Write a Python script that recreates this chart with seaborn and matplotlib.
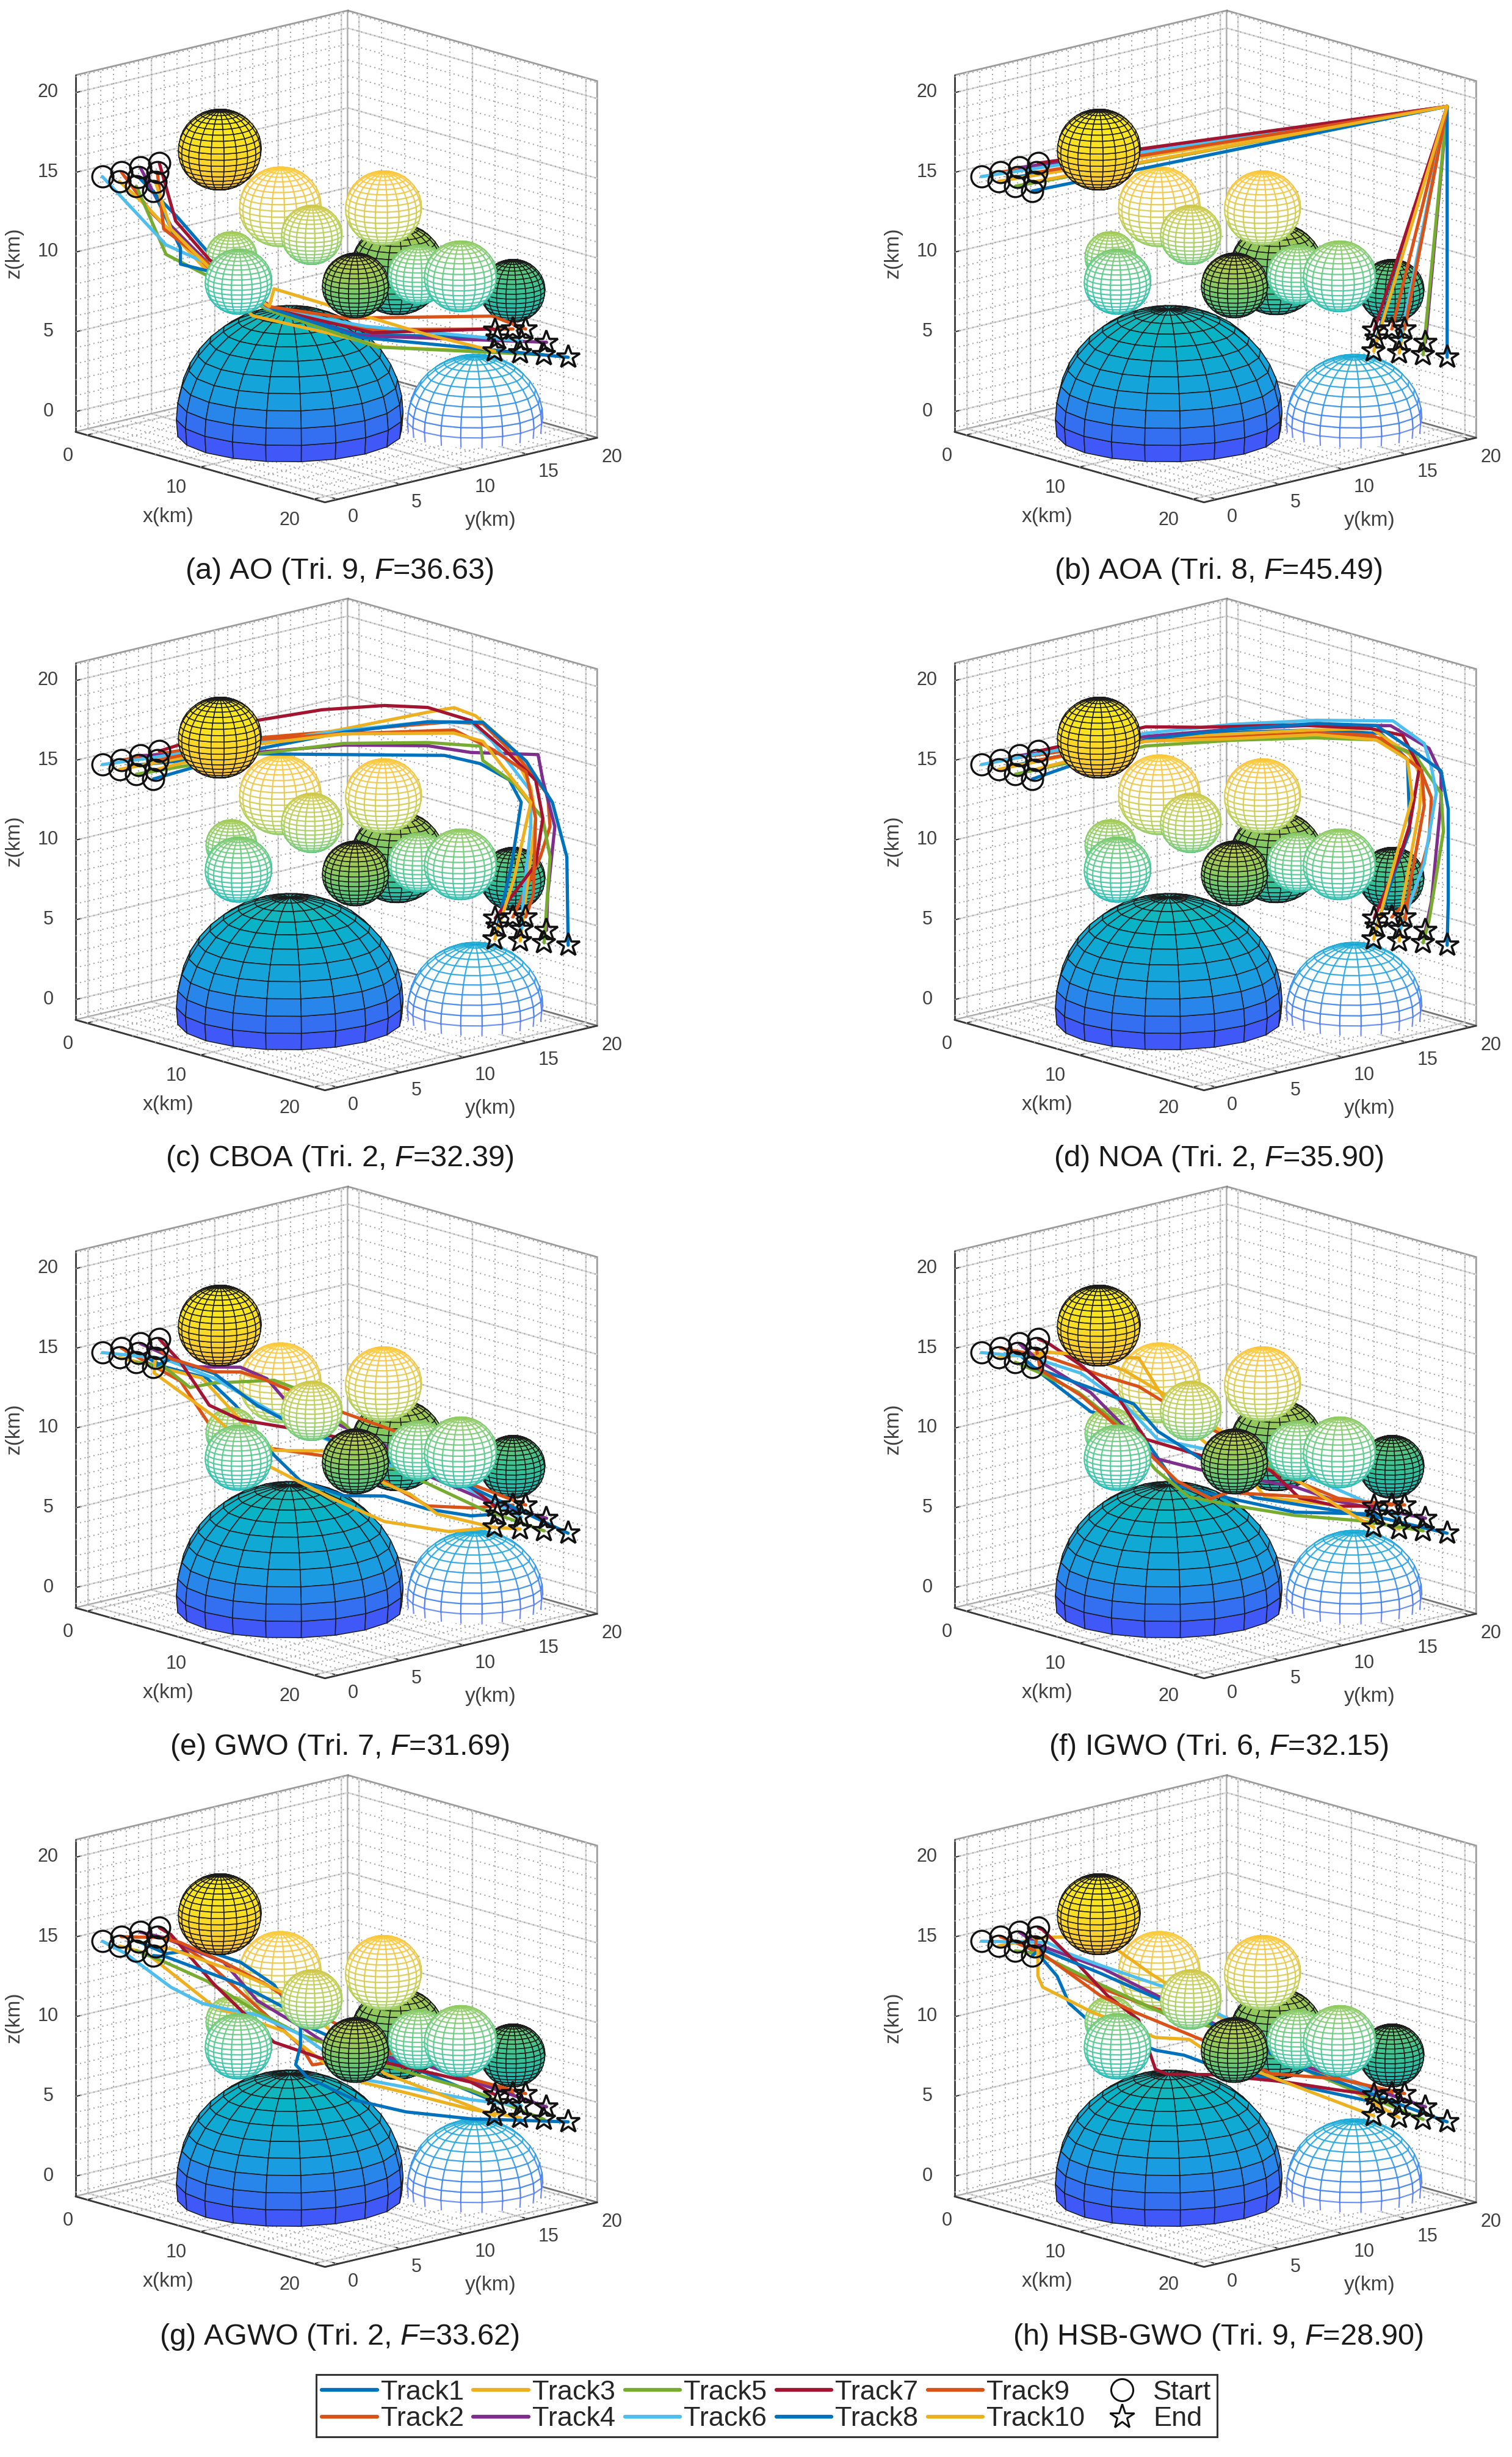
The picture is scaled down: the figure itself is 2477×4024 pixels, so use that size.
"""UAV track comparison: eight 3D panels of obstacle spheres and ten tracks."""
import numpy as np
import matplotlib
matplotlib.use("Agg")
import matplotlib.pyplot as plt
from matplotlib.lines import Line2D
from matplotlib.transforms import Affine2D
from mpl_toolkits.mplot3d.art3d import Line3DCollection, Poly3DCollection
import seaborn as sns

# axis ranges and ticks
x_lim = (-1.0, 21.0)
y_lim = (-1.0, 20.5)
z_lim = (-1.27, 21.1)
x_ticks = [0, 10, 20]
y_ticks = [0, 5, 10, 15, 20]
z_ticks = [0, 5, 10, 15, 20]
x_minor = list(range(0, 21, 2))
y_minor = list(range(0, 21))
z_minor = list(range(-1, 22))

# obstacles: centre, radius
solid_x = [5.54, 12.94, 17.0, 17.75]
solid_y = [4.54, 11.94, 5.0, 16.75]
solid_z = [16.7, 9.3, 10.4, 8.0]
solid_r = [2.45, 2.76, 1.96, 1.9]
solid_front = [True, False, True, False]

wire_x = [8.06, 9.37, 12.36, 13.83, 15.57, 6.02, 6.32]
wire_y = [7.06, 8.37, 11.36, 12.83, 14.57, 5.02, 5.32]
wire_z = [13.15, 11.4, 13.12, 8.97, 8.88, 10.0, 8.43]
wire_r = [2.4, 1.78, 2.24, 1.78, 2.13, 1.49, 1.96]
wire_front = [False, True, False, True, True, False, True]

dome_x, dome_y, dome_r = 8.4, 7.5, 6.7
wire_dome_x, wire_dome_y, wire_dome_r = 16.6, 14.8, 4.0

# track ends (Track1 .. Track10)
track_names = [f"Track{i}" for i in range(1, 11)]
track_colors = ["#0072BD", "#D95319", "#EDB120", "#7E2F8E", "#77AC30",
                "#4DBEEE", "#A2142F", "#0072BD", "#D95319", "#EDB120"]
start_x = [1.75, 0.25, 1.75, 0.25, 3.25, 0.25, 0.25, 4.75, 1.75, 3.25]
start_y = [1.5, 1.5, 0.0, 3.0, 0.0, 0.0, 4.5, 0.0, 3.0, 1.5]
start_z = [14.8] * 10
end_x = [16.06, 16.7, 17.0, 18.1, 18.0, 17.05, 15.96, 19.0, 17.23, 15.94]
end_y = [17.06, 17.7, 18.0, 19.1, 19.0, 18.05, 16.96, 20.0, 18.23, 16.94]
end_z = [4.64, 5.21, 3.71, 4.4, 3.61, 4.46, 5.13, 3.47, 5.22, 3.81]

# waypoints between start and end, per panel and track: (x, y, z)
via_a = [
    [(3.8, 2.8, 12.4), (5.2, 4.2, 10.0), (7.5, 6.5, 6.9), (11.2, 10.2, 5.2)],
    [(2.7, 1.7, 12.7), (5.0, 4.0, 9.3), (7.5, 6.5, 6.7), (11.7, 10.7, 5.5)],
    [(2.5, 1.5, 13.1), (5.0, 4.0, 9.1), (6.9, 5.9, 6.3), (10.5, 9.5, 5.1), (12.4, 11.4, 4.4)],
    [(3.5, 2.5, 11.9), (5.1, 4.1, 9.5), (7.5, 6.5, 6.7), (11.4, 10.4, 5.1)],
    [(3.3, 2.3, 10.1), (5.0, 4.0, 8.8), (7.5, 6.5, 6.7), (12.1, 11.1, 4.4)],
    [(3.3, 2.3, 10.7), (5.1, 4.1, 9.5), (7.5, 6.5, 6.8), (11.6, 10.6, 5.7)],
    [(3.7, 2.7, 12.2), (5.1, 4.1, 9.8), (7.8, 6.8, 6.7), (11.9, 10.9, 5.3), (16.9, 15.9, 5.6)],
    [(3.9, 2.9, 10.5), (3.9, 2.9, 9.5), (5.0, 4.0, 9.1), (7.8, 6.8, 6.7), (11.4, 10.4, 5.0)],
    [(3.2, 2.2, 11.7), (5.1, 4.1, 9.5), (7.5, 6.5, 6.9), (10.8, 9.8, 6.2), (16.9, 15.9, 6.4)],
    [(3.5, 2.5, 11.7), (5.1, 4.1, 9.3), (7.6, 6.6, 6.9), (7.8, 6.8, 8.0), (10.3, 9.3, 6.9), (14.2, 13.2, 5.2)],
]
via_b = [[(19.0, 20.0, 19.2)] for _ in range(10)]
via_c = [
    [(7.1, 6.1, 15.7), (10.7, 9.7, 15.7), (14.9, 13.9, 15.7), (16.4, 15.4, 15.2), (17.6, 16.6, 14.2), (18.1, 17.1, 12.8), (17.7, 16.7, 8.9)],
    [(7.1, 6.1, 16.7), (10.7, 9.7, 17.2), (15.1, 14.1, 17.8), (16.5, 15.5, 17.7), (18.1, 17.1, 15.4), (19.2, 18.2, 13.3), (19.3, 18.3, 11.3), (18.9, 17.9, 9.4)],
    [(7.1, 6.1, 16.3), (10.7, 9.7, 17.3), (14.2, 13.2, 18.4), (15.3, 14.3, 18.7), (16.2, 15.2, 18.2), (17.6, 16.6, 16.4), (18.5, 17.5, 13.7), (18.7, 17.7, 11.8)],
    [(7.1, 6.1, 15.8), (10.7, 9.7, 16.3), (14.2, 13.2, 16.3), (16.0, 15.0, 15.9), (18.8, 17.8, 15.8), (19.0, 18.0, 14.2), (19.5, 18.5, 11.3), (19.2, 18.2, 7.0)],
    [(7.1, 6.1, 15.7), (10.7, 9.7, 16.4), (14.2, 13.2, 16.5), (16.4, 15.4, 16.3), (16.5, 15.5, 15.4), (17.8, 16.8, 14.0), (19.0, 18.0, 11.8), (19.3, 18.3, 9.4)],
    [(7.1, 6.1, 16.4), (10.7, 9.7, 17.2), (14.2, 13.2, 17.8), (16.0, 15.0, 17.8), (16.9, 15.9, 16.6), (18.5, 17.5, 13.5), (18.5, 17.5, 11.3), (18.2, 17.2, 7.0)],
    [(7.1, 6.1, 17.8), (9.8, 8.8, 18.5), (12.4, 11.4, 18.8), (14.2, 13.2, 18.7), (16.0, 15.0, 17.9), (17.4, 16.4, 16.1), (18.7, 17.7, 14.2), (19.0, 18.0, 11.8), (18.7, 17.7, 8.9)],
    [(7.1, 6.1, 16.0), (10.7, 9.7, 17.1), (14.2, 13.2, 17.8), (16.5, 15.5, 17.8), (18.3, 17.3, 15.4), (19.4, 18.4, 12.8), (20.0, 19.0, 9.4)],
    [(7.1, 6.1, 16.6), (10.7, 9.7, 17.0), (15.3, 14.3, 17.3), (16.9, 15.9, 16.1), (18.3, 17.3, 14.7), (18.7, 17.7, 11.8), (18.6, 17.6, 7.0)],
    [(7.1, 6.1, 16.3), (10.7, 9.7, 17.0), (15.3, 14.3, 17.1), (16.5, 15.5, 16.6), (18.5, 17.5, 12.8), (17.8, 16.8, 8.0)],
]
via_d = [
    [(7.5, 6.5, 16.7), (11.1, 10.1, 17.1), (14.6, 13.6, 17.3), (17.3, 16.3, 17.1), (18.4, 17.4, 15.5), (18.5, 17.5, 11.0), (18.0, 17.0, 9.0)],
    [(7.5, 6.5, 16.6), (11.1, 10.1, 17.0), (14.6, 13.6, 17.1), (16.9, 15.9, 17.0), (18.7, 17.7, 15.8), (19.4, 18.4, 13.1), (19.3, 18.3, 10.5), (18.7, 17.7, 7.1)],
    [(7.5, 6.5, 16.6), (11.1, 10.1, 17.0), (14.6, 13.6, 17.3), (16.9, 15.9, 17.4), (18.5, 17.5, 15.8), (19.0, 18.0, 14.3), (18.9, 17.9, 12.4), (18.2, 17.2, 6.6)],
    [(7.5, 6.5, 16.8), (11.1, 10.1, 17.3), (14.6, 13.6, 17.6), (17.7, 16.7, 17.6), (19.3, 18.3, 16.2), (19.8, 18.8, 14.6), (19.8, 18.8, 12.9), (19.4, 18.4, 6.6)],
    [(7.5, 6.5, 16.2), (11.1, 10.1, 16.6), (14.5, 13.5, 16.8), (17.1, 16.1, 16.7), (18.7, 17.7, 15.8), (19.8, 18.8, 13.4), (19.9, 18.9, 11.0), (19.3, 18.3, 5.4)],
    [(7.5, 6.5, 17.0), (11.1, 10.1, 17.6), (14.6, 13.6, 17.9), (17.8, 16.8, 17.9), (19.1, 18.1, 16.5), (19.4, 18.4, 15.0), (19.6, 18.6, 13.4), (19.1, 18.1, 9.0)],
    [(7.5, 6.5, 17.4), (9.8, 8.8, 17.4), (13.7, 12.7, 17.6), (16.9, 15.9, 17.4), (18.2, 17.2, 17.0), (18.9, 17.9, 15.0), (18.5, 17.5, 11.4), (18.1, 17.1, 9.5)],
    [(7.5, 6.5, 16.6), (11.1, 10.1, 17.3), (14.6, 13.6, 17.7), (17.1, 16.1, 17.6), (18.5, 17.5, 16.2), (19.8, 18.8, 14.8), (20.1, 19.1, 12.4), (20.1, 19.1, 6.6)],
    [(7.5, 6.5, 16.5), (11.1, 10.1, 16.8), (14.6, 13.6, 17.1), (17.3, 16.3, 16.8), (19.0, 18.0, 14.8), (19.1, 18.1, 12.6), (18.5, 17.5, 7.6), (18.3, 17.3, 5.4)],
    [(7.5, 6.5, 16.5), (11.1, 10.1, 16.7), (14.6, 13.6, 17.0), (17.1, 16.1, 16.7), (18.4, 17.4, 15.5), (18.6, 17.6, 13.1)],
]
via_e = [
    [(3.2, 2.2, 14.1), (5.0, 4.0, 13.4), (6.2, 5.2, 11.7), (7.8, 6.8, 8.6), (8.9, 7.9, 7.0), (10.7, 9.7, 6.1), (12.4, 11.4, 6.1), (14.2, 13.2, 5.3), (16.0, 15.0, 4.9)],
    [(3.9, 2.9, 13.2), (5.1, 4.1, 10.5), (6.4, 5.4, 9.1), (7.8, 6.8, 9.0), (9.8, 8.8, 8.6), (12.3, 11.3, 7.1), (14.2, 13.2, 5.5), (16.0, 15.0, 5.4)],
    [(4.8, 3.8, 13.4), (6.4, 5.4, 10.8), (7.8, 6.8, 8.9), (9.8, 8.8, 8.9), (12.4, 11.4, 6.9), (13.5, 12.5, 6.2), (14.6, 13.6, 5.0), (16.9, 15.9, 4.2)],
    [(4.4, 3.4, 14.1), (6.4, 5.4, 14.1), (7.5, 6.5, 13.4), (8.3, 7.3, 12.0), (12.4, 11.4, 9.3), (14.2, 13.2, 7.4), (16.9, 15.9, 5.7)],
    [(3.2, 2.2, 14.1), (4.3, 3.3, 12.8), (5.3, 4.3, 13.1), (7.8, 6.8, 13.3), (8.7, 7.7, 12.8), (10.8, 9.8, 10.5), (12.4, 11.4, 8.1), (14.2, 13.2, 6.9), (16.5, 15.5, 5.3)],
    [(3.2, 2.2, 14.6), (5.3, 4.3, 13.4), (7.5, 6.5, 11.5), (8.9, 7.9, 10.3), (12.4, 11.4, 8.1), (15.1, 14.1, 7.2)],
    [(3.9, 2.9, 14.4), (5.1, 4.1, 11.7), (6.4, 5.4, 10.8), (8.5, 7.5, 10.3), (10.3, 9.3, 9.8), (12.4, 11.4, 9.1), (16.0, 15.0, 6.7)],
    [(3.5, 2.5, 14.6), (5.3, 4.3, 13.7), (7.1, 6.1, 11.7), (8.9, 7.9, 10.3), (12.4, 11.4, 8.3), (14.2, 13.2, 7.7), (16.0, 15.0, 6.7)],
    [(3.5, 2.5, 14.6), (5.3, 4.3, 13.8), (6.4, 5.4, 13.8), (7.3, 6.3, 13.4), (10.7, 9.7, 11.3), (12.8, 11.8, 10.2), (16.0, 15.0, 6.9)],
    [(2.8, 1.8, 13.7), (5.3, 4.3, 11.0), (7.6, 6.6, 7.9), (10.1, 9.1, 6.0), (12.4, 11.4, 4.5), (15.1, 14.1, 3.9)],
]
via_f = [
    [(3.1, 2.1, 13.7), (5.2, 4.2, 11.3), (7.0, 6.0, 10.6), (8.8, 7.8, 6.7), (11.1, 10.1, 5.9), (13.7, 12.7, 5.1)],
    [(3.4, 2.4, 14.7), (5.6, 4.6, 13.6), (7.2, 6.2, 12.9), (9.3, 8.3, 11.0), (11.1, 10.1, 9.6), (12.7, 11.7, 7.7), (15.5, 14.5, 6.0)],
    [(3.4, 2.4, 15.0), (6.3, 5.3, 14.7), (7.2, 6.2, 14.7), (7.9, 6.9, 13.0), (8.2, 7.2, 12.3), (9.6, 8.6, 9.9), (12.1, 11.1, 6.7), (12.5, 11.5, 6.0), (15.2, 14.2, 5.6)],
    [(3.1, 2.1, 14.4), (5.2, 4.2, 12.5), (7.9, 6.9, 8.4), (9.8, 8.8, 7.7), (13.7, 12.7, 6.7), (15.5, 14.5, 5.8)],
    [(3.1, 2.1, 13.7), (4.7, 3.7, 12.5), (6.3, 5.3, 10.6), (7.9, 6.9, 7.7), (9.3, 8.3, 6.0), (11.1, 10.1, 5.5), (13.7, 12.7, 4.9), (16.4, 15.4, 4.6)],
    [(2.7, 1.7, 14.7), (4.8, 3.8, 13.7), (6.6, 5.6, 11.8), (8.0, 7.0, 9.6), (12.7, 11.7, 8.2), (14.8, 13.8, 7.0)],
    [(3.4, 2.4, 15.6), (4.8, 3.8, 14.2), (6.3, 5.3, 12.3), (7.5, 6.5, 9.6), (9.8, 8.8, 8.6), (12.7, 11.7, 7.7), (13.2, 12.2, 7.0), (13.9, 12.9, 6.0), (15.5, 14.5, 5.5)],
    [(3.1, 2.1, 13.9), (4.8, 3.8, 13.0), (7.0, 6.0, 11.8), (8.0, 7.0, 10.1), (9.8, 8.8, 8.4), (12.0, 11.0, 6.0), (17.3, 16.3, 4.8)],
    [(3.1, 2.1, 13.9), (4.8, 3.8, 12.3), (7.7, 6.7, 8.6), (8.8, 7.8, 7.0), (10.2, 9.2, 5.9), (10.9, 9.9, 6.3), (13.7, 12.7, 6.1)],
    [(3.4, 2.4, 15.0), (4.7, 3.7, 14.9), (6.6, 5.6, 13.9), (8.2, 7.2, 12.5), (10.5, 9.5, 10.3), (13.7, 12.7, 7.2), (15.5, 14.5, 5.5)],
]
via_g = [
    [(3.3, 2.3, 14.2), (4.8, 3.8, 14.5), (6.4, 5.4, 13.7), (7.8, 6.8, 12.3), (8.9, 7.9, 9.9), (10.7, 9.7, 8.7), (14.2, 13.2, 6.8)],
    [(3.5, 2.5, 15.2), (5.0, 4.0, 13.7), (7.1, 6.1, 10.9), (8.9, 7.9, 8.5), (9.4, 8.4, 7.3), (9.8, 8.8, 7.4), (12.8, 11.8, 8.1), (16.0, 15.0, 6.5)],
    [(2.5, 1.5, 14.2), (5.3, 4.3, 10.9), (8.2, 7.2, 9.4), (10.7, 9.7, 6.5), (13.3, 12.3, 5.6), (16.0, 15.0, 4.6)],
    [(3.2, 2.2, 15.2), (5.7, 4.7, 13.7), (7.1, 6.1, 11.3), (8.9, 7.9, 9.7), (9.9, 8.9, 8.7), (14.2, 13.2, 7.3)],
    [(3.2, 2.2, 13.7), (5.0, 4.0, 12.5), (7.1, 6.1, 10.6), (8.9, 7.9, 9.2), (12.4, 11.4, 7.3), (16.0, 15.0, 5.8)],
    [(1.6, 0.6, 14.2), (3.5, 2.5, 12.1), (4.8, 3.8, 11.1), (6.0, 5.0, 10.7), (7.1, 6.1, 10.4), (8.9, 7.9, 9.2), (11.6, 10.6, 6.4), (14.2, 13.2, 5.7), (16.0, 15.0, 5.2)],
    [(3.5, 2.5, 15.4), (5.3, 4.3, 12.3), (7.8, 6.8, 8.7), (9.8, 8.8, 7.7), (12.4, 11.4, 7.5), (16.0, 15.0, 6.3)],
    [(3.3, 2.3, 14.0), (6.4, 5.4, 12.3), (8.2, 7.2, 10.9), (8.9, 7.9, 9.9), (8.9, 7.9, 8.5), (8.7, 7.7, 7.3), (9.2, 8.2, 6.5), (11.2, 10.2, 5.1), (13.3, 12.3, 4.4), (16.0, 15.0, 4.0)],
    [(3.9, 2.9, 14.9), (5.7, 4.7, 13.7), (7.5, 6.5, 12.3), (8.2, 7.2, 11.6), (12.8, 11.8, 8.0), (14.2, 13.2, 7.5), (16.0, 15.0, 6.5)],
    [(3.5, 2.5, 14.5), (6.4, 5.4, 13.0), (8.2, 7.2, 11.8), (12.4, 11.4, 6.8), (15.1, 14.1, 5.3)],
]
via_h = [
    [(3.0, 2.0, 14.2), (3.8, 2.8, 12.8), (4.3, 3.3, 11.1), (5.2, 4.2, 9.9), (7.9, 6.9, 8.2), (9.1, 8.1, 7.9), (10.2, 9.2, 7.3), (13.7, 12.7, 6.1)],
    [(2.7, 1.7, 14.5), (5.6, 4.6, 12.1), (7.7, 6.7, 10.9), (10.2, 9.2, 9.9), (13.7, 12.7, 7.5)],
    [(3.2, 2.2, 15.2), (4.7, 3.7, 15.3), (6.1, 5.1, 14.7), (7.7, 6.7, 13.0), (10.5, 9.5, 10.4), (12.7, 11.7, 8.5), (15.5, 14.5, 6.3)],
    [(3.1, 2.1, 14.7), (5.7, 4.7, 13.3), (8.0, 7.0, 11.6), (10.2, 9.2, 10.0), (13.7, 12.7, 7.5)],
    [(3.0, 2.0, 14.2), (5.6, 4.6, 12.3), (8.4, 7.4, 10.4), (10.2, 9.2, 9.7), (13.7, 12.7, 7.3)],
    [(3.4, 2.4, 14.9), (4.3, 3.3, 14.2), (5.6, 4.6, 13.5), (8.4, 7.4, 12.1), (13.6, 12.6, 8.2)],
    [(3.2, 2.2, 15.7), (4.7, 3.7, 13.5), (5.9, 4.9, 11.6), (7.2, 6.2, 10.1), (7.9, 6.9, 7.0), (8.4, 7.4, 6.7), (10.2, 9.2, 6.7), (13.2, 12.2, 6.3), (15.5, 14.5, 5.8)],
    [(3.1, 2.1, 14.5), (5.6, 4.6, 13.0), (8.2, 7.2, 11.3), (10.2, 9.2, 9.9), (13.7, 12.7, 7.3)],
    [(2.9, 1.9, 14.5), (5.6, 4.6, 11.6), (7.0, 6.0, 10.6), (9.8, 8.8, 8.9), (12.7, 11.7, 6.8), (15.5, 14.5, 6.5)],
    [(3.0, 2.0, 14.5), (3.0, 2.0, 12.8), (3.2, 2.2, 12.1), (5.2, 4.2, 10.6), (7.9, 6.9, 9.0), (9.3, 8.3, 8.9), (10.2, 9.2, 8.0)],
]

panel_vias = [via_a, via_b, via_c, via_d, via_e, via_f, via_g, via_h]
panel_letters = list("abcdefgh")
panel_names = ["AO", "AOA", "CBOA", "NOA", "GWO", "IGWO", "AGWO", "HSB-GWO"]
panel_trials = [9, 8, 2, 2, 7, 6, 2, 9]
panel_scores = ["36.63", "45.49", "32.39", "35.90", "31.69", "32.15", "33.62", "28.90"]

# layout, in reference pixels from the top left
W, H = 2477, 4024
AX_SIZE = 1017
COL_X = [551, 1991]
ROW_Y = [420, 1383, 2346, 3310]
CAPTION_X = [556, 1996]
CAPTION_Y = [936, 1897, 2861, 3827]

sns.set_theme(style="white", rc={"axes.facecolor": "white", "figure.facecolor": "white"})
plt.rcParams["font.family"] = ["Liberation Sans", "DejaVu Sans"]
plt.rcParams["mathtext.fontset"] = "custom"
plt.rcParams["mathtext.rm"] = "Liberation Sans"
plt.rcParams["mathtext.it"] = "Liberation Sans:italic"

# parula-like map, tuned to the colours of the obstacles
parula = sns.blend_palette(
    [(0.2422, 0.1504, 0.6603), (0.25, 0.35, 0.98), (0.10, 0.62, 0.88),
     (0.03, 0.70, 0.78), (0.25, 0.77, 0.55), (0.68, 0.80, 0.30),
     (0.98, 0.76, 0.22), (0.98, 0.90, 0.12), (0.9769, 0.9839, 0.0805)],
    n_colors=256, as_cmap=True)
palette = sns.color_palette(track_colors)
TEXT_GREY = "#404040"


def z_color(z):
    return parula(np.clip((z + 3.5) / 24.5, 0, 1))


def sphere_mesh(cx, cy, cz, r, floor=None):
    """Quads of a sphere(20) mesh, with their mean heights."""
    phi = np.linspace(-np.pi / 2, np.pi / 2, 21)
    theta = np.linspace(0, 2 * np.pi, 21)
    quads, heights = [], []
    for i in range(20):
        for j in range(20):
            corners = [(phi[i], theta[j]), (phi[i], theta[j + 1]),
                       (phi[i + 1], theta[j + 1]), (phi[i + 1], theta[j])]
            quad = [(cx + r * np.cos(p) * np.cos(t), cy + r * np.cos(p) * np.sin(t),
                     cz + r * np.sin(p)) for p, t in corners]
            mean_z = np.mean([q[2] for q in quad])
            if floor is not None and min(q[2] for q in quad) < floor:
                continue
            quads.append(quad)
            heights.append(mean_z)
    return quads, np.array(heights)


def add_ball(ax, cx, cy, cz, r, solid, zorder, floor=None):
    quads, heights = sphere_mesh(cx, cy, cz, r, floor)
    colors = z_color(heights)
    if solid:
        poly = Poly3DCollection(quads, facecolors=colors, edgecolors="#1c1c1c", linewidths=1.1)
    else:
        colors[:, 3] = 0.72
        poly = Poly3DCollection(quads, facecolors="white", edgecolors=colors, linewidths=1.6)
    poly.set_zorder(zorder)
    ax.add_collection3d(poly, autolim=False)


def add_wire_dome(ax, cx, cy, r, zorder):
    """Wire dome whose lowest band has meridians only, no closing ring."""
    add_ball(ax, cx, cy, 0.0, r, False, zorder + 0.02, floor=-0.5)
    low = r * np.sin(np.radians(-9.0))
    edge = r * np.cos(np.radians(9.0))
    theta = np.linspace(0, 2 * np.pi, 21)
    band = [[(cx + r * np.cos(a), cy + r * np.sin(a), 0.0),
             (cx + r * np.cos(b), cy + r * np.sin(b), 0.0),
             (cx + edge * np.cos(b), cy + edge * np.sin(b), low),
             (cx + edge * np.cos(a), cy + edge * np.sin(a), low)]
            for a, b in zip(theta[:-1], theta[1:])]
    fill = Poly3DCollection(band, facecolors="white", edgecolors="none")
    fill.set_zorder(zorder)
    ax.add_collection3d(fill, autolim=False)
    front = [a for a in theta[:-1] if 0.737 * np.cos(a) - 0.676 * np.sin(a) > -0.05]
    segs = [[(cx + r * np.cos(a), cy + r * np.sin(a), 0.0),
             (cx + edge * np.cos(a), cy + edge * np.sin(a), low)] for a in front]
    color = z_color(np.array([low / 2]))[0].copy()
    color[3] = 0.72
    lines = Line3DCollection(segs, colors=[color], linewidths=1.6)
    lines.set_zorder(zorder + 0.01)
    ax.add_collection3d(lines, autolim=False)


def minor_grid(ax):
    x0, x1 = x_lim
    y0, y1 = y_lim
    z0, z1 = z_lim
    segs = []
    for v in x_minor:
        segs.append([(v, y0, z0), (v, y1, z0)])
        segs.append([(v, y1, z0), (v, y1, z1)])
    for v in y_minor:
        segs.append([(x0, v, z0), (x1, v, z0)])
        segs.append([(x0, v, z0), (x0, v, z1)])
    for v in z_minor:
        segs.append([(x0, y0, v), (x0, y1, v)])
        segs.append([(x0, y1, v), (x1, y1, v)])
    lines = Line3DCollection(segs, colors="#a6a6a6", linewidths=1.5, linestyles=[(0, (1, 2.6))])
    lines.set_zorder(1)
    ax.add_collection3d(lines, autolim=False)


def style_axes(ax):
    ax.set_xlim(*x_lim, view_margin=0)
    ax.set_ylim(*y_lim, view_margin=0)
    ax.set_zlim(*z_lim, view_margin=0)
    ax.set_box_aspect((1, 1, 1))
    ax.view_init(elev=15, azim=-42.5)
    ax.patch.set_visible(False)
    ax.computed_zorder = False
    ax.set_xticks(x_ticks)
    ax.set_yticks(y_ticks)
    ax.set_zticks(z_ticks)
    ax.tick_params(labelsize=22, labelcolor=TEXT_GREY, pad=8)
    ax.xaxis.set_tick_params(pad=11)
    ax.zaxis.set_tick_params(pad=12)
    ax.zaxis.set_ticks_position("lower")
    ax.zaxis.set_label_position("lower")
    for axis in (ax.xaxis, ax.yaxis, ax.zaxis):
        axis.pane.set_facecolor("white")
        axis.pane.set_edgecolor("#383838")
        axis.pane.set_linewidth(2.0)
        axis.line.set_color("#383838")
        axis.line.set_linewidth(2.0)
        axis._axinfo["grid"].update(color="#d9d9d9", linewidth=1.8, linestyle="-")
        axis._axinfo["tick"].update(inward_factor=0.0, outward_factor=0.25, color="#383838")
        axis.set_rotate_label(False)
    ax.grid(True)
    plt.setp(ax.xaxis.get_ticklabels(), ha="right", va="center")
    plt.setp(ax.yaxis.get_ticklabels(), ha="left", va="center")
    plt.setp(ax.zaxis.get_ticklabels(), va="center")
    ax.set_xlabel("x(km)", fontsize=24, color=TEXT_GREY, labelpad=24, rotation=0)
    ax.set_ylabel("y(km)", fontsize=24, color=TEXT_GREY, labelpad=24, rotation=0)
    ax.set_zlabel("z(km)", fontsize=24, color=TEXT_GREY, labelpad=24, rotation=90)
    ax.xaxis.label.set_transform(ax.transData + Affine2D().translate(23, -23))
    ax.yaxis.label.set_transform(ax.transData + Affine2D().translate(-26, -21))
    ax.zaxis.label.set_transform(ax.transData + Affine2D().translate(13, 8))


def draw_panel(ax, vias):
    style_axes(ax)
    minor_grid(ax)
    add_wire_dome(ax, wire_dome_x, wire_dome_y, wire_dome_r, 2.0)
    add_ball(ax, dome_x, dome_y, 0.0, dome_r, True, 2.1, floor=z_lim[0])
    for i in range(len(solid_x)):
        z = 4.0 + 0.1 * i if solid_front[i] else 2.2 + 0.1 * i
        add_ball(ax, solid_x[i], solid_y[i], solid_z[i], solid_r[i], True, z)
    for i in range(len(wire_x)):
        z = 4.5 + 0.1 * i if wire_front[i] else 2.6 + 0.1 * i
        add_ball(ax, wire_x[i], wire_y[i], wire_z[i], wire_r[i], False, z)
    for i, via in enumerate(vias):
        xs = [start_x[i]] + [p[0] for p in via] + [end_x[i]]
        ys = [start_y[i]] + [p[1] for p in via] + [end_y[i]]
        zs = [start_z[i]] + [p[2] for p in via] + [end_z[i]]
        ax.plot(xs, ys, zs, color=palette[i], lw=3.8, zorder=3 + 0.05 * i,
                solid_joinstyle="round", solid_capstyle="round")
    ax.plot(start_x, start_y, start_z, ls="none", marker="o", ms=25, mfc="none",
            mec="#111111", mew=2.4, zorder=6)
    ax.plot(end_x, end_y, end_z, ls="none", marker="*", ms=29, mfc="none",
            mec="#111111", mew=2.6, zorder=6)


fig = plt.figure(figsize=(W / 100, H / 100), dpi=100)
for n in range(8):
    col, row = n % 2, n // 2
    left = (COL_X[col] - 0.5135 * AX_SIZE) / W
    bottom = (H - ROW_Y[row] - 0.5135 * AX_SIZE) / H
    ax = fig.add_axes([left, bottom, AX_SIZE / W, AX_SIZE / H],
                      projection="3d", proj_type="ortho")
    draw_panel(ax, panel_vias[n])
    caption = (f"({panel_letters[n]}) {panel_names[n]} (Tri. {panel_trials[n]}, "
               f"$\\mathit{{F}}$={panel_scores[n]})")
    fig.text(CAPTION_X[col] / W, 1 - CAPTION_Y[row] / H, caption, fontsize=35,
             color="#1a1a1a", ha="center", va="center")

handles = [Line2D([], [], color=palette[i], lw=4.5, label=track_names[i]) for i in range(10)]
handles.append(Line2D([], [], ls="none", marker="o", ms=26, mfc="none", mec="#111111",
                      mew=2.2, label="Start"))
handles.append(Line2D([], [], ls="none", marker="*", ms=30, mfc="none", mec="#111111",
                      mew=2.2, label="End"))
legend = fig.legend(handles=handles, ncols=6, fontsize=32.5, loc="center",
                    bbox_to_anchor=(1256 / W, 1 - 3940 / H), frameon=True, fancybox=False,
                    edgecolor="#333333", framealpha=1, handlelength=2.0, handletextpad=0.14,
                    columnspacing=0.34, labelspacing=0.06, borderpad=0.2, borderaxespad=0)
legend.get_frame().set_linewidth(2.2)

fig.savefig("out.png", dpi=100)
